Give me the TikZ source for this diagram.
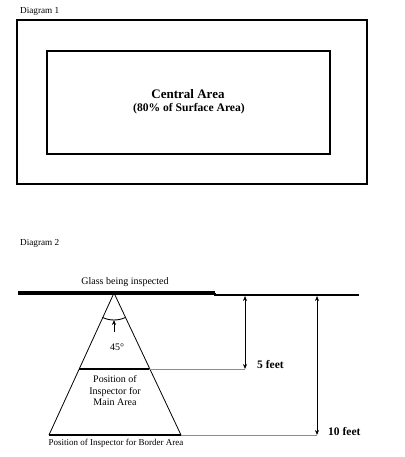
\documentclass[tikz,border=0pt]{standalone}
\usepackage{fontspec}
\setmainfont{Liberation Serif}
\usetikzlibrary{arrows.meta, positioning, calc}

\begin{document}
\begin{tikzpicture}[
    x=1pt, y=1pt,
    caption/.style={font=\fontsize{9.2}{11}\selectfont, anchor=west, inner sep=0pt},
    lbl/.style={font=\fontsize{10}{11.5}\selectfont, align=center, inner sep=0pt},
    dim/.style={font=\bfseries\fontsize{11.5}{13}\selectfont, anchor=west, inner sep=0pt},
    guide/.style={draw=black!45, line width=0.5pt},
    dimarr/.style={{Stealth[length=5pt,width=4pt]}-{Stealth[length=5pt,width=4pt]}, line width=0.7pt},
    bar/.style={line width=2.6pt}
  ]
  \useasboundingbox (0,0) rectangle (404,-457);

  % Diagram 1
  \node[caption] (cap1) at (20,-11) {Diagram 1};
  \draw[line width=2.4pt] (17,-20) rectangle (367,-184);
  \draw[line width=1.2pt] (47,-51) rectangle (330,-154);
  \node[font=\bfseries\fontsize{13}{15}\selectfont, inner sep=0pt] (central) at (188,-94) {Central Area};
  \node[font=\bfseries\fontsize{11.6}{13}\selectfont, inner sep=0pt] (share) at (189,-109) {(80\% of Surface Area)};

  % Diagram 2
  \node[caption] (cap2) at (20,-243) {Diagram 2};
  \node[lbl] (glasslbl) at (125,-282) {Glass being inspected};
  \coordinate (apex) at (114,-293);
  \coordinate (step) at (215,-295);
  \coordinate (bl) at (49,-435);
  \coordinate (br) at (181,-435);
  \coordinate (ml) at (79,-369);
  \coordinate (mr) at (149,-369);
  \draw[line width=3.6pt] (18,-293) -- (215,-293);
  \draw[line width=1.2pt] (215,-293) -- (step) -- (359,-295);
  \draw[line width=0.8pt] (bl) -- (apex) -- (br);
  \draw[bar] (ml) -- (mr);
  \draw[bar] (bl) -- (br);

  % viewing angle
  \draw[line width=0.9pt] ($(apex)+(245:27)$) arc[start angle=245, end angle=295, radius=27];
  \node[lbl] (angle) at (117,-347) {45\textdegree};
  \draw[-{Stealth[length=5pt,width=4pt]}, line width=0.7pt] (114,-332) -- (114,-320);

  % distances
  \coordinate (top5) at (245,-296);
  \coordinate (bot5) at (245,-369);
  \coordinate (top10) at (317,-296);
  \coordinate (bot10) at (317,-435);
  \draw[guide] (mr) -- (bot5);
  \draw[guide] (br) -- (bot10);
  \draw[dimarr] (top5) -- (bot5);
  \draw[dimarr] (top10) -- (bot10);
  \node[dim] (five) at (257,-365) {5 feet};
  \node[dim] (ten) at (328,-432) {10 feet};

  \node[lbl] (mainpos) at (115,-391) {Position of\\Inspector for\\Main Area};
  \node[lbl, font=\fontsize{9}{10}\selectfont] (borderpos) at (116,-443) {Position of Inspector for Border Area};
\end{tikzpicture}
\end{document}
